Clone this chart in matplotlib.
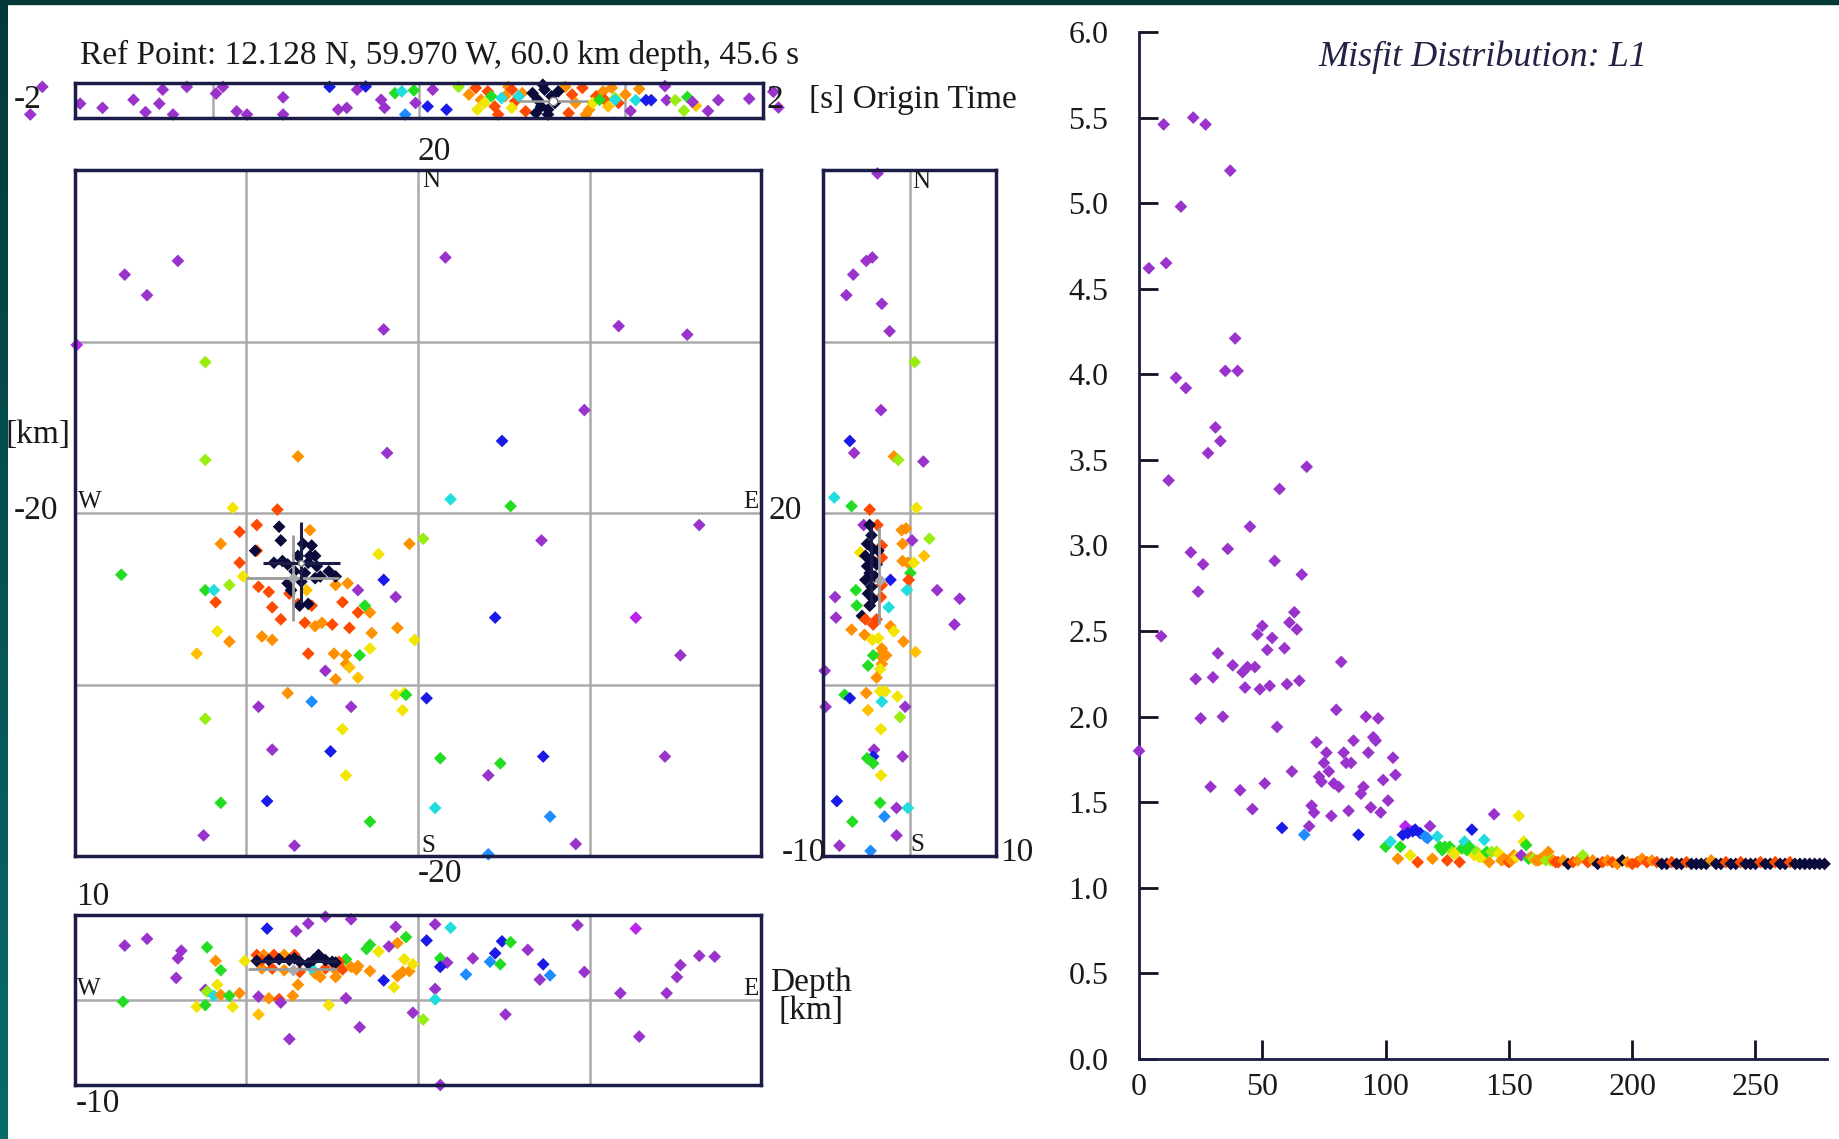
import matplotlib
matplotlib.use('Agg')
import matplotlib.pyplot as plt
import numpy as np
from matplotlib.colors import LinearSegmentedColormap
from matplotlib.patches import Rectangle

# colour codes used by every panel
COLORS = {'p': '#9933cc', 'm': '#bb22ee', 'b': '#1a1ae6', 'l': '#1e8cff',
          'c': '#22dddd', 'g': '#22dd22', 'v': '#99ee11', 'y': '#f2e600',
          'a': '#ffc000', 'o': '#ff9000', 'r': '#ff4a00', 'k': '#0b0b3b'}

# ---- epicentre map (km east, km north)
map_x = [-17.1, -14.0, -15.8, 1.6, -2.0, 11.7, 15.7, -19.9, 9.7, -1.8,
         4.9, -12.4, -12.4, -7.0, 1.9, 5.4, -10.8, -8.2, 16.4, 7.2,
         0.3, -17.3, -12.4, -11.9, -11.0, -10.2, -11.5, -10.4, -9.4, -10.4,
         -9.4, -11.8, -11.7, -11.0, -12.9, -9.3, -8.7, -8.5, -8.0, -9.1,
         -8.5, -6.4, -7.5, -6.6, -6.0, -5.6, -5.0, -4.4, -4.0, -3.5,
         -2.8, -2.7, -3.1, -4.1, -4.8, -3.5, -1.3, -2.3, -0.5, -2.0,
         -2.8, -3.4, -4.9, -4.2, -4.2, -4.0, -4.8, -3.5, -5.4, -1.2,
         -0.2, -6.3, -6.5, -6.2, -7.0, 4.5, 12.7, 15.3, -7.6, -6.2,
         -9.3, -3.9, -1.3, -0.8, -0.7, -0.9, 0.5, -12.4, -4.4, -8.5,
         -5.1, -4.2, 1.3, 4.8, 4.1, 7.3, 14.4, -11.5, -8.8, -2.8,
         1.0, 7.7, -12.5, -7.2, 9.2, 4.1,
         -8.1, -9.5, -8.0, -6.7, -6.2, -6.0, -7.0, -6.4, -5.9, -7.2,
         -7.6, -6.8, -5.7, -5.2, -4.8, -7.4, -6.9, -6.4, -8.4, -7.9,
         -6.6, -6.0, -7.6, -6.3]
map_y = [13.9, 14.7, 12.7, 14.9, 10.7, 10.9, 10.4, 9.8, 6.0, 3.5,
         4.2, 8.8, 3.1, 3.3, 0.8, 0.4, 0.3, 0.2, -0.7, -1.6,
         -1.5, -3.6, -4.5, -4.5, -4.2, -3.7, -1.8, -1.1, -0.7, -2.9,
         -2.2, -5.2, -6.9, -7.5, -8.2, -4.3, -4.6, -5.5, -6.2, -7.2,
         -7.4, -8.2, -4.7, -6.4, -6.6, -6.4, -6.5, -5.2, -6.7, -5.8,
         -5.8, -7.0, -5.4, -4.1, -4.2, -4.5, -4.9, -2.4, -1.8, -3.9,
         -7.9, -8.3, -8.2, -8.3, -8.8, -9.0, -9.7, -9.6, -9.2, -6.7,
         -7.4, -1.0, -4.5, -5.4, -5.3, -6.1, -6.1, -8.3, -10.5, -11.0,
         -11.3, -11.3, -10.6, -10.5, -10.6, -11.5, -10.8, -12.0, -12.6, -13.8,
         -13.9, -15.3, -14.3, -14.6, -15.3, -14.2, -14.2, -16.9, -16.8, -18.0,
         -17.2, -17.7, -18.8, -19.4, -19.3, -19.9,
         -0.8, -2.2, -1.6, -1.8, -1.9, -2.5, -2.5, -2.9, -3.1, -3.4,
         -4.1, -4.0, -3.7, -3.4, -3.7, -4.5, -5.4, -5.3, -2.9, -2.8,
         -3.5, -3.8, -3.0, -2.5]
map_c = ('pppppppmpp' 'bvvocgyrpp' 'vggcvyorrr' 'rryoarrrro' 'orrroorrrr'
         'oogooppyob' 'ygoooaoapo' 'yoarrbmpol' 'ppyygybvyp' 'byggpbpgbg'
         'clpppl' 'kkkkkkkkkk' 'kkkkkkkkkk' 'kkkk')

# ---- N-S vs depth section
side_d = [-3.7, -5.0, -4.3, -6.5, -7.3, -3.2, -2.3, 0.6, -3.3, -6.9,
          -6.4, -1.8, -1.3, 1.6, -8.7, -6.7, -4.6, 0.8, -5.3, -3.7,
          -0.9, -0.4, 0.3, 2.3, 1.7, -0.8, -3.2, -3.2, -0.8, -0.2,
          0.5, -5.7, 0.1, -2.2, -0.1, -0.3, 3.2, 5.8, 5.2, -8.6,
          -8.5, -6.2, -6.1, -5.5, -5.1, -4.6, -3.8, -4.2, -2.4, -3.2,
          -3.3, -6.7, -5.2, -4.3, -3.6, -2.2, -1.8, -0.7, -3.2, -3.4,
          -2.7, -4.2, -4.8, -3.2, -3.4, -3.8, 0.7, -9.8, -9.7, -7.5,
          -6.9, -5.0, -3.4, -2.8, -3.2, -1.4, -4.8, -0.5, -1.1, -3.3,
          -4.1, -4.2, -4.9, -4.2, -0.8, -3.3, -8.4, -3.4, -2.9, -1.5,
          -0.2, -6.6, -1.5, -8.1, -4.5,
          -4.6, -4.4, -4.9, -4.2, -5.1, -4.4, -3.8, -4.9, -4.6, -4.0,
          -5.1, -4.4, -4.8, -4.2, -4.6, -3.6]
side_y = [19.8, 14.7, 14.9, 13.9, 12.7, 12.2, 10.6, 8.8, 6.0, 4.2,
          3.5, 3.3, 3.1, 3.0, 0.9, 0.4, 0.2, 0.3, -0.7, -0.7,
          -1.0, -0.9, -1.6, -1.5, -2.5, -1.8, -1.9, -2.6, -2.8, -2.9,
          -2.9, -2.3, -3.5, -3.9, -3.9, -4.5, -4.5, -5.0, -6.5, -4.9,
          -6.1, -4.5, -5.4, -6.0, -6.2, -5.4, -6.2, -6.5, -5.5, -4.2,
          -4.9, -6.8, -7.1, -7.4, -7.3, -6.6, -6.9, -7.5, -7.9, -8.3,
          -8.3, -8.3, -8.9, -8.8, -9.1, -9.6, -8.1, -9.2, -11.3, -10.6,
          -10.8, -10.5, -10.4, -10.4, -11.0, -10.7, -11.5, -11.3, -11.9, -12.6,
          -13.8, -14.2, -14.3, -14.6, -14.2, -15.3, -16.8, -16.9, -17.7, -17.2,
          -17.2, -18.0, -18.8, -19.4, -19.7,
          -0.7, -1.3, -1.8, -2.1, -2.5, -2.7, -3.0, -3.1, -3.5, -3.7,
          -3.9, -4.3, -4.7, -5.0, -5.4, -2.2]
side_c = ('pppppppvpb' 'povpcgrypr' 'oopvaorroo' 'yygbrcpppp' 'pggkrrrrcr'
          'rooyyoyooo' 'oggoyoappg' 'boyycyapvy' 'pbggpybglp' 'cgppl'
          'kkkkkkkkkk' 'kkkkkk')

# ---- W-E vs depth section
depth_x = [-17.1, -15.8, -13.8, -14.0, -14.1, -12.3, -11.8, -11.5, -10.1, -17.2,
           -11.7, -12.4, -12.3, -11.9, -11.5, -11.0, -10.4, -12.9, -12.4, -10.8,
           -9.3, -9.3, -8.7, -8.1, -8.0, -7.3, -7.0, -7.5, -8.8, -7.1,
           -6.4, -5.4, -3.9, -1.3, 1.0, 1.9, -0.7, -1.2, -1.7, -2.8,
           -3.0, -2.3, -4.2, -3.5, -2.8, -2.0, -1.4, -1.2, -0.8, -0.9,
           -0.5, -0.3, -4.2, -5.2, -3.4, -0.3, 0.3, 1.0, 1.0, 0.5,
           1.3, 1.7, 1.3, 2.8, 3.2, 4.2, 4.5, 4.8, 4.9, 5.4,
           6.4, 7.3, 7.1, 7.7, 5.1, 9.3, 9.7, 12.7, 12.9, 11.8,
           14.5, 15.1, 15.3, 16.4, 17.3, 1.3,
           -9.4, -9.0, -8.4, -7.8, -7.2, -9.1, -8.5, -7.8, -6.9, -6.0,
           -5.4, -4.8, -4.6, -4.4, -3.9, -3.6, -6.2, -5.7, -4.8, -9.1,
           -9.4, -8.7, -8.1, -7.5, -6.9, -6.4, -5.8, -5.4, -5.0, -7.2,
           -6.1, -4.8]
depth_z = [6.4, 7.2, 5.8, 4.9, 2.6, 6.2, 4.6, 3.5, 4.6, -0.2,
           1.8, 1.2, 1.0, 0.5, 0.6, 0.5, 0.8, -0.8, -0.6, -0.8,
           -1.7, 0.4, 0.2, 0.1, -0.3, 0.5, 1.8, -4.6, 8.4, 8.1,
           9.0, 9.8, 9.5, 8.6, 8.9, 8.5, 7.4, 6.7, 6.3, 6.5,
           6.0, 5.7, 4.8, 4.0, 3.4, 2.3, 1.5, 2.8, 4.8, 3.3,
           3.4, 4.2, 0.2, -0.6, -3.2, -1.5, -2.3, 1.3, 0.06, 7.0,
           4.9, 4.4, 3.9, 3.0, 4.9, 4.5, 5.5, 4.2, 6.9, 6.8,
           5.9, 4.2, 2.4, 2.9, -1.7, 8.8, 3.3, 8.4, -4.3, 0.8,
           0.8, 2.7, 4.1, 5.2, 5.1, -10.0,
           5.3, 5.3, 5.3, 5.3, 5.3, 3.7, 3.7, 3.5, 3.3, 3.1,
           3.7, 3.5, 4.5, 3.6, 3.9, 3.6, 3.7, 2.7, 2.7, 4.7,
           4.6, 4.7, 4.8, 4.7, 4.5, 4.3, 5.3, 4.7, 4.5, 4.9,
           4.7, 4.4]
depth_c = ('pppppgogyg' 'ypvcogoygy' 'aporpoopbp' 'pppppcgopg'
           'gygoobyoyo' 'oypyppvpcb' 'gpblplbgbg' 'pbplpppmpp'
           'pppppp' 'rororororo' 'rorroocoor' 'kkkkkkkkkk' 'kk')

# ---- origin time strip (s, vertical jitter 0-1)
ot_t = [-2.19, -2.26, -1.97, -1.84, -1.66, -1.59, -1.51, -1.49, -1.43, -1.35,
        -1.18, -1.14, -1.06, -1.00, -0.79, -0.79, -0.52, -0.47, -0.42, -0.36,
        -0.31, -0.22, -0.20, -0.14, -0.10, -0.08, -0.03, -0.02, 0.08, 0.05,
        0.16, 0.23,
        1.23, 1.26, 1.32, 1.35, 1.28, 1.43, 1.44, 1.49, 1.56, 1.54,
        1.61, 1.59, 1.68, 1.74, 1.92, 2.06, 2.09,
        0.29, 0.33, 0.36, 0.40, 0.44, 0.50, 0.52, 0.56, 0.60, 0.62,
        0.85, 0.89, 0.91, 0.95, 0.99, 1.03, 1.07, 1.08, 1.12, 1.16,
        1.20, 0.46, 0.97, 0.54, 0.87,
        0.34, 0.38, 0.54, 1.01, 1.10, 0.42, 1.05, 1.14, 0.48, 0.58, 1.14,
        0.66, 0.69, 0.73, 0.71, 0.77, 0.79, 0.68, 0.75, 0.81, 0.72, 0.75]
ot_y = [0.89, 0.10, 0.41, 0.29, 0.52, 0.17, 0.41, 0.81, 0.10, 0.89,
        0.70, 0.89, 0.19, 0.10, 0.59, 0.10, 0.89, 0.24, 0.29, 0.81,
        0.90, 0.52, 0.29, 0.71, 0.76, 0.10, 0.79, 0.43, 0.81, 0.33,
        0.24, 0.89,
        0.20, 0.51, 0.51, 0.51, 0.83, 0.91, 0.51, 0.51, 0.60, 0.21,
        0.35, 0.46, 0.20, 0.51, 0.55, 0.75, 0.30,
        0.67, 0.86, 0.52, 0.76, 0.33, 0.62, 0.89, 0.48, 0.71, 0.19,
        0.89, 0.67, 0.43, 0.86, 0.24, 0.62, 0.76, 0.52, 0.86, 0.43,
        0.67, 0.10, 0.10, 0.81, 0.14,
        0.24, 0.43, 0.29, 0.43, 0.33, 0.62, 0.52, 0.57, 0.57, 0.62, 0.52,
        0.71, 0.52, 0.81, 0.33, 0.62, 0.43, 0.14, 0.10, 0.76, 0.95, 0.24]
ot_c = ('pppppppppp' 'ppppppbppp' 'bppgclgppb' 'bv'
        'pcbboppvgv' 'apppppp'
        'ororrooror' 'ororororor' 'ororr'
        'yyyyaggvccc' 'kkkkkkkkkkk')

# ---- misfit distribution (iteration, L1 misfit)
iteration = [0, 4, 9, 10, 11, 12, 15, 17, 19, 21, 22, 23, 24, 25, 26, 27, 28, 29,
             30, 31, 32, 33, 34, 35, 36, 37, 38, 39, 40, 41, 42, 43, 44, 45, 46,
             47, 48, 49, 50, 51, 52, 53, 54, 55, 56, 57, 58, 59, 60, 61, 62, 63,
             64, 65, 66, 67, 68, 69, 70, 71, 72, 73, 74, 75, 76, 77, 78, 79, 80,
             81, 82, 83, 84, 85, 86, 87, 89, 90, 91, 92, 93, 94, 95, 96, 97, 98,
             99, 101, 103, 104,
             100, 102, 105, 106, 107, 108, 109, 110, 111, 112, 113, 114, 116,
             117, 118, 119, 121, 122, 123, 124, 125, 126, 127, 128, 130, 131,
             132, 133, 134, 135, 136, 137, 138, 139, 140, 141, 142, 143, 144,
             145, 146, 147, 148, 149, 150, 151, 152, 153, 154, 155, 156, 157,
             158, 159, 160, 161, 162, 163, 164, 165, 166, 167, 168, 169,
             170, 172, 174, 176, 178, 180, 182, 184, 186, 188, 190, 192, 194,
             196, 198, 200, 202, 204, 206, 208, 210, 212, 214, 216, 218, 220,
             222, 224, 226, 228, 230, 232, 234, 236, 238, 240, 242, 244, 246,
             248, 250, 252, 254, 256, 258, 260, 262, 264, 266, 268, 270, 272,
             274, 276, 278]
misfit = [1.80, 4.62, 2.47, 5.46, 4.65, 3.38, 3.98, 4.98, 3.92, 2.96, 5.50, 2.22,
          2.73, 1.99, 2.89, 5.46, 3.54, 1.59, 2.23, 3.69, 2.37, 3.61, 2.00, 4.02,
          2.98, 5.19, 2.30, 4.21, 4.02, 1.57, 2.26, 2.17, 2.29, 3.11, 1.46, 2.29,
          2.48, 2.16, 2.53, 1.61, 2.39, 2.18, 2.46, 2.91, 1.94, 3.33, 1.35, 2.40,
          2.19, 2.55, 1.68, 2.61, 2.51, 2.21, 2.83, 1.31, 3.46, 1.36, 1.48, 1.44,
          1.85, 1.65, 1.62, 1.73, 1.79, 1.68, 1.42, 1.61, 2.04, 1.59, 2.32, 1.79,
          1.73, 1.45, 1.73, 1.86, 1.31, 1.55, 1.59, 2.00, 1.79, 1.47, 1.88, 1.86,
          1.99, 1.44, 1.63, 1.51, 1.76, 1.66,
          1.24, 1.27, 1.17, 1.24, 1.31, 1.36, 1.32, 1.19, 1.33, 1.34, 1.15, 1.32,
          1.30, 1.29, 1.36, 1.17, 1.30, 1.24, 1.22, 1.24, 1.16, 1.24, 1.21, 1.20,
          1.15, 1.23, 1.27, 1.22, 1.24, 1.34, 1.19, 1.21, 1.18, 1.18, 1.28, 1.21,
          1.15, 1.21, 1.43, 1.21, 1.20, 1.16, 1.17, 1.16, 1.15, 1.16, 1.19, 1.18,
          1.42, 1.19, 1.27, 1.25, 1.17, 1.18, 1.17, 1.16, 1.16, 1.17, 1.18, 1.16,
          1.21, 1.16, 1.16, 1.15,
          1.15, 1.16, 1.14, 1.15, 1.16, 1.19, 1.15, 1.16, 1.14, 1.15, 1.16, 1.15,
          1.14, 1.16, 1.15, 1.14, 1.15, 1.17, 1.15, 1.16, 1.15, 1.14, 1.14, 1.15,
          1.14, 1.14, 1.15, 1.14, 1.14, 1.14, 1.14, 1.16, 1.14, 1.14, 1.15, 1.14,
          1.14, 1.15, 1.14, 1.14, 1.14, 1.15, 1.14, 1.14, 1.15, 1.14, 1.14, 1.15,
          1.14, 1.14, 1.14, 1.14, 1.14, 1.14, 1.14]
misfit_c = ('pppppppppppppppppp' 'ppppppppppppppppp' 'pppppppppppbppppp'
            'ppplppppppppppppp' 'pppppppbppppppppp' 'pppp'
            'gcogbmbybbrb' 'llpocgggrgvy' 'rgcggbyvyycgov'
            'pvyooorooyypyggovoooovovor'
            'rokrovrokrorokor' 'rorork' 'krkkrkkkkok' 'krkkrkkkrkk'
            'rkkrkkkkkkk')

TICK_Y = [0.0, 0.5, 1.0, 1.5, 2.0, 2.5, 3.0, 3.5, 4.0, 4.5, 5.0, 5.5, 6.0]
TICK_X = [0, 50, 100, 150, 200, 250]

W, H = 1839, 1139
NAVY = '#1c1c48'
GRID = '#aaaaaa'
TXT = '#1a1a1a'
plt.rcParams['font.family'] = 'Liberation Serif'

fig = plt.figure(figsize=(W / 100, H / 100), dpi=100, facecolor='white')


def box(x0, y0, x1, y1):
    return [x0 / W, 1 - y1 / H, (x1 - x0) / W, (y1 - y0) / H]


def ftext(x, y, s, **kw):
    kw.setdefault('color', TXT)
    fig.text(x / W, 1 - y / H, s, **kw)


# dark frame at top and left
fig.patches.append(Rectangle((0, 1 - 4 / H), 1, 4 / H, transform=fig.transFigure,
                             color='#04393a', zorder=0))
bg = fig.add_axes([0, 0, 8 / W, 1])
bg.imshow(np.linspace(0, 1, 200).reshape(-1, 1), aspect='auto',
          cmap=LinearSegmentedColormap.from_list('teal', ['#03393a', '#086c6a']))
bg.axis('off')


def panel(rect, xlim, ylim, vlines, hlines):
    ax = fig.add_axes(rect)
    ax.set_xlim(*xlim)
    ax.set_ylim(*ylim)
    ax.set_xticks([])
    ax.set_yticks([])
    for s in ax.spines.values():
        s.set_color(NAVY)
        s.set_linewidth(2.5)
        s.set_zorder(4)
    for v in vlines:
        ax.axvline(v, color=GRID, lw=1.8, zorder=1)
    for h in hlines:
        ax.axhline(h, color=GRID, lw=1.8, zorder=1)
    return ax


def dots(ax, x, y, codes, s=42):
    ax.scatter(x, y, c=[COLORS[k] for k in codes], marker='D', s=s,
               linewidths=0, clip_on=False, zorder=3)


# origin time strip
ax_t = panel(box(75, 83, 763, 118), (-2, 2), (0, 1), [-1.2, 0, 1.2], [])
ax_t.errorbar([0.78], [0.5], xerr=[0.2], color='#999999', lw=1.8, zorder=4)
dots(ax_t, ot_t, ot_y, ot_c)
ax_t.plot([0.78], [0.5], 'o', ms=6, mfc='white', mec='#777777', zorder=5)

# map view
ax_m = panel(box(75, 170, 761, 856), (-20, 20), (-20, 20), [-10, 0, 10], [-10, 0, 10])
dots(ax_m, map_x, map_y, map_c)
ax_m.errorbar([-7.3], [-3.8], xerr=[2.7], yerr=[2.5], color='#999999', lw=2, zorder=4)
ax_m.errorbar([-6.8], [-2.9], xerr=[2.25], yerr=[2.35], color=NAVY, lw=2.2, zorder=4)
ax_m.plot([-7.3], [-3.8], 'D', ms=5, color='#aaaaaa', zorder=5)
ax_m.plot([-6.8], [-2.9], 'o', ms=4, mfc='white', mec='#777777', zorder=5)

# N-S vs depth
ax_s = panel(box(823, 170, 996, 856), (-10, 10), (-20, 20), [0], [-10, 0, 10])
dots(ax_s, side_d, side_y, side_c)
ax_s.errorbar([-3.5], [-3.65], yerr=[2.85], color='#999999', lw=2, zorder=4)
ax_s.errorbar([-4.4], [-3.05], yerr=[2.45], color=NAVY, lw=2.2, zorder=4)
ax_s.plot([-3.4], [-3.9], 'D', ms=5, color='#aaaaaa', zorder=5)

# W-E vs depth
ax_d = panel(box(75, 915, 761, 1085), (-20, 20), (-10, 10), [-10, 0, 10], [0])
dots(ax_d, depth_x, depth_z, depth_c)
ax_d.errorbar([-7.3], [3.6], xerr=[2.6], color='#999999', lw=2, zorder=4)
ax_d.errorbar([-7.15], [4.6], xerr=[2.45], color=NAVY, lw=2.2, zorder=4)
ax_d.plot([-7.3], [3.5], 'D', ms=5, color='#aaaaaa', zorder=5)

# labels around the section panels
big = 24
small = 18
ftext(80, 55, 'Ref Point: 12.128 N, 59.970 W, 60.0 km depth, 45.6 s',
      fontsize=big, ha='left', va='center')
ftext(14, 100, '-2', fontsize=big, ha='left', va='center')
ftext(766, 100, '2', fontsize=big, ha='left', va='center')
ftext(809, 100, '[s] Origin Time', fontsize=big, ha='left', va='center')
ftext(434, 152, '20', fontsize=big, ha='center', va='center')
ftext(440, 874, '-20', fontsize=big, ha='center', va='center')
ftext(6, 435, '[km]', fontsize=big, ha='left', va='center')
ftext(14, 511, '-20', fontsize=big, ha='left', va='center')
ftext(768, 511, '20', fontsize=big, ha='left', va='center')
ftext(431, 181, 'N', fontsize=small, ha='center', va='center')
ftext(428, 846, 'S', fontsize=small, ha='center', va='center')
ftext(90, 502, 'W', fontsize=small, ha='center', va='center')
ftext(751, 502, 'E', fontsize=small, ha='center', va='center')
ftext(921, 182, 'N', fontsize=small, ha='center', va='center')
ftext(917, 845, 'S', fontsize=small, ha='center', va='center')
ftext(826, 853, '-10', fontsize=big, ha='right', va='center')
ftext(1000, 853, '10', fontsize=big, ha='left', va='center')
ftext(76, 897, '10', fontsize=big, ha='left', va='center')
ftext(76, 1104, '-10', fontsize=big, ha='left', va='center')
ftext(89, 989, 'W', fontsize=small, ha='center', va='center')
ftext(751, 989, 'E', fontsize=small, ha='center', va='center')
ftext(811, 983, 'Depth', fontsize=big, ha='center', va='center')
ftext(811, 1011, '[km]', fontsize=big, ha='center', va='center')

# misfit distribution
ax_f = fig.add_axes(box(1139, 32, 1827, 1059))
ax_f.scatter(iteration, misfit, c=[COLORS[k] for k in misfit_c], marker='D', s=42,
             linewidths=0, clip_on=False, zorder=3)
ax_f.set_xlim(0, 279)
ax_f.set_ylim(0, 6)
ax_f.set_yticks(TICK_Y)
ax_f.set_yticklabels(['%.1f' % v for v in TICK_Y])
ax_f.set_xticks(TICK_X)
ax_f.spines['top'].set_visible(False)
ax_f.spines['right'].set_visible(False)
for s in ('left', 'bottom'):
    ax_f.spines[s].set_color(NAVY)
    ax_f.spines[s].set_linewidth(2)
ax_f.tick_params(direction='in', length=14, width=2, color='#111122',
                 labelsize=23, labelcolor=TXT)
ax_f.tick_params(axis='y', pad=22)
ax_f.tick_params(axis='x', pad=10)
ax_f.text(0.5, 0.975, 'Misfit Distribution: L1', transform=ax_f.transAxes,
          fontsize=26, style='italic', ha='center', va='center', color='#222244')

fig.savefig('out.png', dpi=100, facecolor='white')
